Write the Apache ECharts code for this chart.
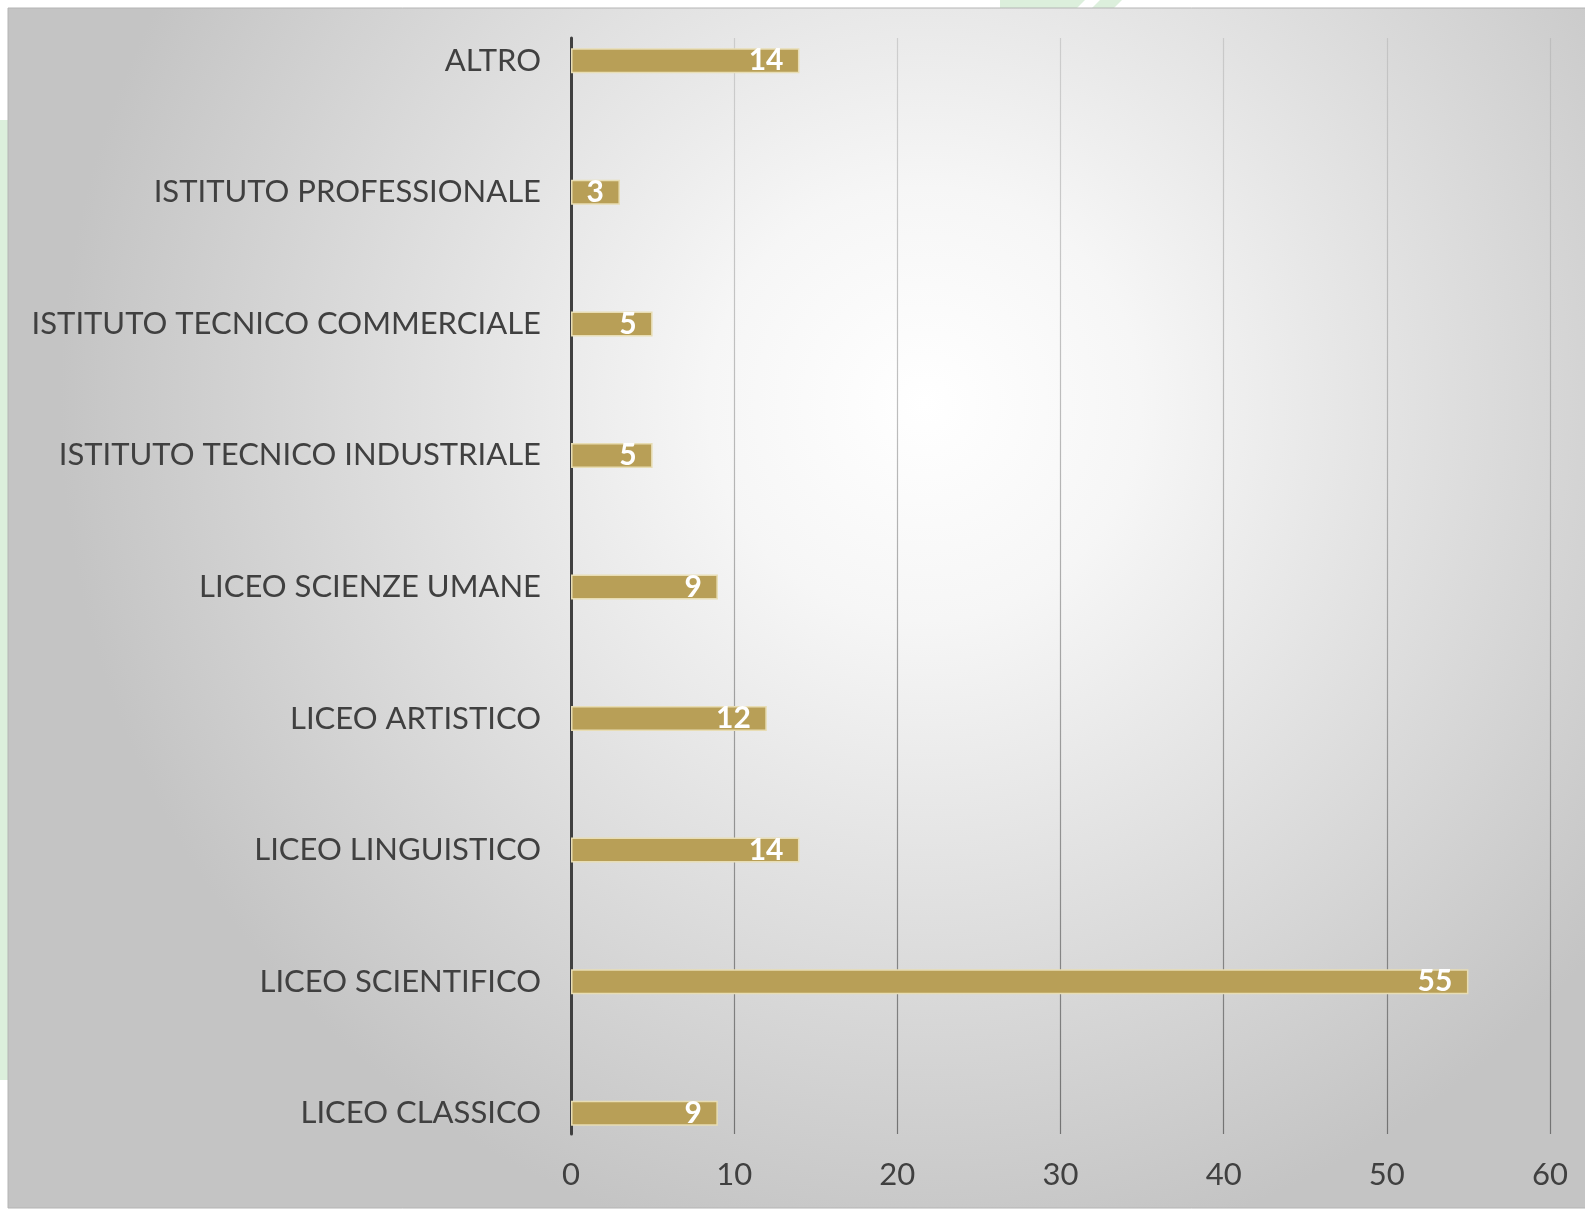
<!DOCTYPE html>
<html><head><meta charset="utf-8">
<script src="https://cdn.jsdelivr.net/npm/echarts@6/dist/echarts.min.js"></script>
<style>html,body{margin:0;padding:0;background:#fff;overflow:hidden;width:1585px;height:1209px;position:relative}
#c{position:absolute;left:0;top:-10px;width:1585px;height:1219px}</style>
</head><body><div id="c"></div>
<script>
const categories = ['LICEO CLASSICO','LICEO SCIENTIFICO','LICEO LINGUISTICO','LICEO ARTISTICO','LICEO SCIENZE UMANE','ISTITUTO TECNICO INDUSTRIALE','ISTITUTO TECNICO COMMERCIALE','ISTITUTO PROFESSIONALE','ALTRO'];
const values = [9, 55, 14, 12, 9, 5, 5, 3, 14];
const xTicks = [0, 10, 20, 30, 40, 50, 60];

const chart = echarts.init(document.getElementById('c'), null, {renderer: 'canvas'});
const FONT = 'Lato, "Open Sans", sans-serif';
const xMin = xTicks[0], xMax = xTicks[xTicks.length - 1], xStep = xTicks[1] - xTicks[0];
const D = 10; // container offset

chart.setOption({
  animation: false,
  backgroundColor: '#ffffff',
  graphic: [
    {type: 'rect', z: -10, shape: {x: 0, y: 120 + D, width: 10, height: 960}, style: {fill: '#dcefdc'}, silent: true},
    {type: 'polygon', z: -10, shape: {points: [[1000, D], [1085, D], [1075, 10 + D], [1000, 10 + D]]}, style: {fill: '#dcefdc'}, silent: true},
    {type: 'polygon', z: -10, shape: {points: [[1100, D], [1122, D], [1112, 10 + D], [1090, 10 + D]]}, style: {fill: '#dcefdc'}, silent: true},
    {type: 'rect', z: -5, shape: {x: 8, y: 8 + D, width: 1580, height: 1200},
      style: {
        fill: new echarts.graphic.RadialGradient(0.58, 0.33, 0.72, [
          {offset: 0, color: '#ffffff'},
          {offset: 0.25, color: '#f6f6f6'},
          {offset: 1, color: '#c4c4c4'}
        ]),
        stroke: '#b4b4b4', lineWidth: 1
      }, silent: true}
  ],
  grid: [
    {left: 571, right: 35, top: 38 + D, bottom: 75, containLabel: false},
    {left: 571, right: 35, top: -5 + D, bottom: 30, containLabel: false}
  ],
  xAxis: [
    {
      gridIndex: 0, type: 'value', min: xMin, max: xMax, interval: xStep,
      axisLine: {show: false}, axisTick: {show: false},
      axisLabel: {color: '#404040', fontSize: 31, fontFamily: FONT, margin: 25},
      splitLine: {show: true, lineStyle: {width: 1.2,
        color: new echarts.graphic.LinearGradient(0, 38 + D, 0, 1134 + D, [
          {offset: 0, color: 'rgba(170,170,170,0.45)'},
          {offset: 1, color: 'rgba(110,110,110,0.95)'}
        ], true)}}
    },
    {
      gridIndex: 1, type: 'value', min: xMin, max: xMax, interval: xStep,
      show: false
    }
  ],
  yAxis: [
    {
      gridIndex: 0, type: 'category', data: categories,
      axisLine: {show: true, lineStyle: {color: '#404040', width: 3}},
      axisTick: {show: false}, axisLabel: {show: false}, splitLine: {show: false}
    },
    {
      gridIndex: 1, type: 'category', data: categories,
      axisLine: {show: false}, axisTick: {show: false},
      axisLabel: {color: '#404040', fontSize: 31, fontFamily: FONT, margin: 30}
    }
  ],
  series: [{
    type: 'bar', xAxisIndex: 1, yAxisIndex: 1, data: values, barWidth: 25,
    itemStyle: {color: '#b89f57', borderColor: '#e8ddb4', borderWidth: 1.5},
    label: {show: true, position: 'insideRight', distance: 16, color: '#ffffff',
      fontSize: 30, fontWeight: 'bold', fontFamily: FONT, offset: [0, 0]}
  }]
});
</script>
</body></html>
